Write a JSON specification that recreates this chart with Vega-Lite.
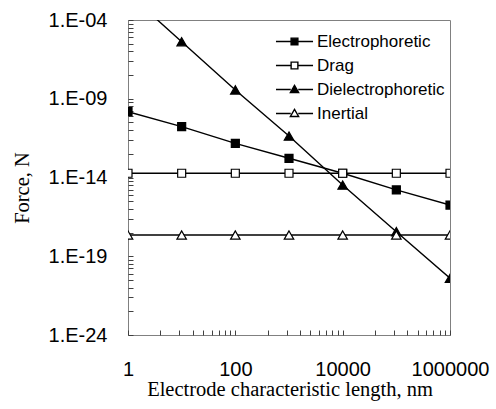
{
  "$schema": "https://vega.github.io/schema/vega-lite/v6.json",
  "width": 322,
  "height": 315,
  "autosize": "none",
  "padding": {"left": 128, "top": 20, "right": 46, "bottom": 74},
  "background": "white",
  "config": {
    "view": {"stroke": "#808080", "strokeWidth": 1},
    "axis": {
      "grid": false,
      "ticks": true,
      "domain": false,
      "zindex": 1,
      "tickColor": "#404040",
      "tickWidth": 1,
      "tickSize": 5,
      "offset": -5,
      "labelFont": "Liberation Sans",
      "labelFontSize": 20,
      "labelColor": "black",
      "labelOverlap": false,
      "labelFlush": false,
      "titleFont": "Liberation Serif",
      "titleFontSize": 20.5,
      "titleFontWeight": "normal",
      "titleColor": "black"
    }
  },
  "data": {
    "values": [
      {"series": "Electrophoretic", "x": 1, "y": 1.51e-10},
      {"series": "Electrophoretic", "x": 10, "y": 1.70e-11},
      {"series": "Electrophoretic", "x": 100, "y": 1.48e-12},
      {"series": "Electrophoretic", "x": 1000, "y": 1.66e-13},
      {"series": "Electrophoretic", "x": 10000, "y": 1.86e-14},
      {"series": "Electrophoretic", "x": 100000, "y": 1.62e-15},
      {"series": "Electrophoretic", "x": 1000000, "y": 1.78e-16},
      {"series": "Drag", "x": 1, "y": 1.86e-14},
      {"series": "Drag", "x": 10, "y": 1.86e-14},
      {"series": "Drag", "x": 100, "y": 1.86e-14},
      {"series": "Drag", "x": 1000, "y": 1.86e-14},
      {"series": "Drag", "x": 10000, "y": 1.86e-14},
      {"series": "Drag", "x": 100000, "y": 1.86e-14},
      {"series": "Drag", "x": 1000000, "y": 1.86e-14},
      {"series": "Dielectrophoretic", "x": 1, "y": 4.8e-3},
      {"series": "Dielectrophoretic", "x": 10, "y": 4.17e-6},
      {"series": "Dielectrophoretic", "x": 100, "y": 3.63e-9},
      {"series": "Dielectrophoretic", "x": 1000, "y": 4.27e-12},
      {"series": "Dielectrophoretic", "x": 10000, "y": 3.31e-15},
      {"series": "Dielectrophoretic", "x": 100000, "y": 3.63e-18},
      {"series": "Dielectrophoretic", "x": 1000000, "y": 3.98e-21},
      {"series": "Inertial", "x": 1, "y": 2.24e-18},
      {"series": "Inertial", "x": 10, "y": 2.24e-18},
      {"series": "Inertial", "x": 100, "y": 2.24e-18},
      {"series": "Inertial", "x": 1000, "y": 2.24e-18},
      {"series": "Inertial", "x": 10000, "y": 2.24e-18},
      {"series": "Inertial", "x": 100000, "y": 2.24e-18},
      {"series": "Inertial", "x": 1000000, "y": 2.24e-18}
    ]
  },
  "encoding": {
    "x": {
      "field": "x",
      "type": "quantitative",
      "scale": {"type": "log", "domain": [1, 1000000], "nice": false},
      "axis": {
        "title": "Electrode characteristic length, nm",
        "values": [1, 4, 9, 16, 25, 36, 49, 64, 81, 100, 400, 900, 1600, 2500, 3600, 4900, 6400, 8100, 10000, 40000, 90000, 160000, 250000, 360000, 490000, 640000, 810000, 1000000],
        "labelExpr": "abs(log(datum.value)/LN10 - round(log(datum.value)/LN10)) < 0.001 ? format(datum.value, 'd') : ''",
        "labelPadding": 24,
        "labelBaseline": "top",
        "titleX": 161.5,
        "titleY": 65,
        "titleAlign": "center",
        "titleBaseline": "alphabetic"
      }
    },
    "y": {
      "field": "y",
      "type": "quantitative",
      "scale": {"type": "log", "domain": [1e-24, 1e-4], "nice": false},
      "axis": {
        "title": "Force, N",
        "values": [1e-24, 3.2e-23, 2.43e-22, 1.024e-21, 3.125e-21, 7.776e-21, 1.6807e-20, 3.2768e-20, 5.9049e-20, 1e-19, 3.2e-18, 2.43e-17, 1.024e-16, 3.125e-16, 7.776e-16, 1.6807e-15, 3.2768e-15, 5.9049e-15, 1e-14, 3.2e-13, 2.43e-12, 1.024e-11, 3.125e-11, 7.776e-11, 1.6807e-10, 3.2768e-10, 5.9049e-10, 1e-9, 3.2e-8, 2.43e-7, 1.024e-6, 3.125e-6, 7.776e-6, 1.6807e-5, 3.2768e-5, 5.9049e-5, 1e-4],
        "labelExpr": "abs(log(datum.value)/LN10 - round(log(datum.value)/LN10)) < 0.001 ? ('1.E-' + (-round(log(datum.value)/LN10) < 10 ? '0' : '') + (-round(log(datum.value)/LN10))) : ''",
        "labelPadding": 21,
        "titleAngle": 270,
        "titleX": -105,
        "titleY": 167.5,
        "titleAlign": "center",
        "titleBaseline": "alphabetic"
      }
    }
  },
  "layer": [
    {
      "mark": {"type": "line", "color": "black", "strokeWidth": 1.4, "clip": true},
      "encoding": {"detail": {"field": "series"}}
    },
    {
      "mark": {"type": "point", "filled": true, "stroke": "black", "strokeWidth": 1.2, "opacity": 1, "clip": true},
      "encoding": {
        "shape": {"condition": {"test": "datum.series === 'Electrophoretic' || datum.series === 'Drag'", "value": "square"}, "value": "triangle-up"},
        "fill": {"condition": {"test": "datum.series === 'Electrophoretic' || datum.series === 'Dielectrophoretic'", "value": "black"}, "value": "white"},
        "size": {"condition": {"test": "datum.series === 'Electrophoretic' || datum.series === 'Drag'", "value": 64}, "value": 90}
      }
    },
    {
      "transform": [{"filter": "datum.x < 0"}],
      "mark": {"type": "point", "filled": false, "stroke": "black", "strokeWidth": 1.4, "opacity": 1, "clip": true},
      "encoding": {
        "shape": {
          "field": "series",
          "type": "nominal",
          "scale": {
            "domain": ["Electrophoretic", "Drag", "Dielectrophoretic", "Inertial"],
            "range": [
              "M-2.47,0H-0.45M0.45,0H2.47M-0.45,-0.45H0.45V0.45H-0.45Z",
              "M-2.47,0H-0.45M0.45,0H2.47M-0.45,-0.45H0.45V0.45H-0.45Z",
              "M-2.47,0H-0.5M0.5,0H2.47M0,-0.55L0.55,0.4H-0.55Z",
              "M-2.47,0H-0.5M0.5,0H2.47M0,-0.55L0.55,0.4H-0.55Z"
            ]
          },
          "legend": {
            "title": null,
            "orient": "none",
            "legendX": 158,
            "legendY": 13,
            "padding": 0,
            "labelFont": "Liberation Sans",
            "labelFontSize": 17,
            "labelColor": "black",
            "labelOffset": 14,
            "rowPadding": 6,
            "symbolSize": 225,
            "symbolOpacity": 1,
            "symbolStrokeWidth": 1.4
          }
        },
        "fill": {
          "field": "series",
          "type": "nominal",
          "scale": {
            "domain": ["Electrophoretic", "Drag", "Dielectrophoretic", "Inertial"],
            "range": ["black", "white", "black", "white"]
          },
          "legend": {
            "title": null,
            "orient": "none",
            "legendX": 158,
            "legendY": 13,
            "padding": 0,
            "labelFont": "Liberation Sans",
            "labelFontSize": 17,
            "labelColor": "black",
            "labelOffset": 14,
            "rowPadding": 6,
            "symbolSize": 225,
            "symbolOpacity": 1,
            "symbolStrokeWidth": 1.4
          }
        }
      }
    }
  ]
}
